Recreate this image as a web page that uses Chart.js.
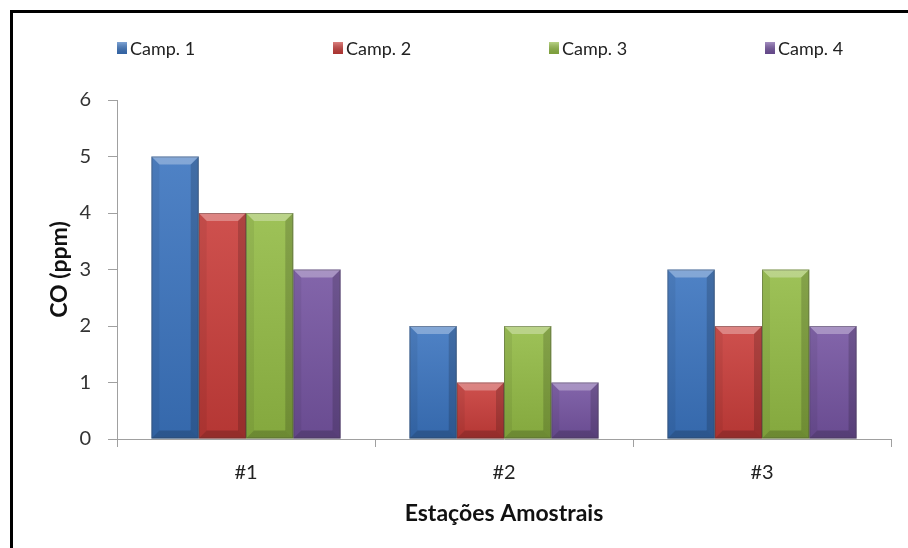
<!DOCTYPE html>
<html>
<head>
<meta charset="utf-8">
<script src="https://cdn.jsdelivr.net/npm/chart.js@4/dist/chart.umd.min.js"></script>
<style>
  html, body { margin: 0; padding: 0; background: #fff; }
  #wrap { width: 908px; height: 548px; position: relative; }
</style>
</head>
<body>
<div id="wrap"><canvas id="c" width="908" height="548"></canvas></div>
<script>
// Sampling stations and CO readings (ppm) for each campaign
const stations = ['#1', '#2', '#3'];
const camp1 = [5, 2, 3];
const camp2 = [4, 1, 2];
const camp3 = [4, 2, 3];
const camp4 = [3, 1, 2];
const seriesNames = ['Camp. 1', 'Camp. 2', 'Camp. 3', 'Camp. 4'];
const yTicks = [0, 1, 2, 3, 4, 5, 6];

const baseColors = ['#3b74bf', '#c93d3a', '#93bb45', '#7554a1'];
const FONT = 'Lato, "Open Sans", sans-serif';

// Frame lines along the top and left edges, on a white page
const framePlugin = {
  id: 'frame',
  beforeDraw(chart) {
    const ctx = chart.ctx;
    ctx.save();
    ctx.fillStyle = '#fff';
    ctx.fillRect(0, 0, chart.width, chart.height);
    ctx.fillStyle = '#000';
    ctx.fillRect(10, 10, chart.width - 10, 3);
    ctx.fillRect(10, 10, 3, chart.height - 10);
    ctx.restore();
  }
};

// Bevelled shading on top of each bar the library has drawn
const bevelPlugin = {
  id: 'bevel',
  afterDatasetsDraw(chart) {
    const ctx = chart.ctx;
    chart.data.datasets.forEach((ds, di) => {
      const meta = chart.getDatasetMeta(di);
      meta.data.forEach(bar => {
        const l = bar.x - bar.width / 2, r = bar.x + bar.width / 2;
        const t = Math.min(bar.y, bar.base), b = Math.max(bar.y, bar.base);
        const bv = Math.min(8, (b - t) / 3);
        ctx.save();
        // soft vertical shading of the face
        const g = ctx.createLinearGradient(0, t, 0, b);
        g.addColorStop(0, 'rgba(255,255,255,0.10)');
        g.addColorStop(1, 'rgba(0,0,0,0.10)');
        ctx.fillStyle = g;
        ctx.fillRect(l, t, r - l, b - t);
        const poly = (pts, fill) => {
          ctx.beginPath();
          ctx.moveTo(pts[0][0], pts[0][1]);
          for (let i = 1; i < pts.length; i++) ctx.lineTo(pts[i][0], pts[i][1]);
          ctx.closePath();
          ctx.fillStyle = fill;
          ctx.fill();
        };
        poly([[l, t], [r, t], [r - bv, t + bv], [l + bv, t + bv]], 'rgba(255,255,255,0.30)');
        poly([[l, t], [l + bv, t + bv], [l + bv, b - bv], [l, b]], 'rgba(0,0,0,0.06)');
        poly([[r, t], [r - bv, t + bv], [r - bv, b - bv], [r, b]], 'rgba(0,0,0,0.16)');
        poly([[l, b], [l + bv, b - bv], [r - bv, b - bv], [r, b]], 'rgba(0,0,0,0.18)');
        ctx.strokeStyle = 'rgba(60,60,60,0.35)';
        ctx.lineWidth = 1;
        ctx.strokeRect(l + 0.5, t + 0.5, r - l - 1, b - t - 1);
        ctx.restore();
      });
    });
  }
};

// Legend row spread across the top
const legendRowPlugin = {
  id: 'legendRow',
  afterDraw(chart, args, opts) {
    const ctx = chart.ctx;
    ctx.save();
    ctx.font = '18px ' + FONT;
    ctx.textBaseline = 'middle';
    chart.data.datasets.forEach((ds, i) => {
      const x = opts.x0 + i * opts.step;
      const y = opts.y;
      const g = ctx.createLinearGradient(0, y - 6, 0, y + 6);
      g.addColorStop(0, 'rgba(255,255,255,0.35)');
      g.addColorStop(1, 'rgba(0,0,0,0.15)');
      ctx.fillStyle = ds.backgroundColor;
      ctx.fillRect(x, y - 6, 10, 12);
      ctx.fillStyle = g;
      ctx.fillRect(x, y - 6, 10, 12);
      ctx.fillStyle = '#222';
      ctx.fillText(ds.label, x + 13, y + 1);
    });
    ctx.restore();
  }
};

const series = [camp1, camp2, camp3, camp4];

new Chart(document.getElementById('c'), {
  type: 'bar',
  data: {
    labels: stations,
    datasets: series.map((vals, i) => ({
      label: seriesNames[i],
      data: vals,
      backgroundColor: baseColors[i],
      borderWidth: 0,
      categoryPercentage: 0.733,
      barPercentage: 1.0
    }))
  },
  options: {
    responsive: false,
    animation: false,
    devicePixelRatio: 1,
    layout: { padding: { top: 100, right: 17, bottom: 0, left: 13 } },
    plugins: {
      legend: { display: false },
      tooltip: { enabled: false },
      legendRow: { x0: 117, step: 216, y: 48 }
    },
    scales: {
      x: {
        afterFit(scale) { scale.height = 109; },
        grid: {
          offset: true,
          drawOnChartArea: false,
          drawTicks: true,
          tickLength: 8,
          color: '#a0a0a0'
        },
        border: { color: '#a0a0a0', width: 1 },
        ticks: {
          color: '#222',
          font: { family: FONT, size: 20 },
          padding: 14
        },
        title: {
          display: true,
          text: 'Estações Amostrais',
          color: '#111',
          font: { family: FONT, size: 23, weight: 'bold' },
          padding: { top: 4, bottom: 21 }
        }
      },
      y: {
        min: 0,
        max: 6,
        afterFit(scale) { scale.width = 104; },
        afterBuildTicks(scale) { scale.ticks = yTicks.map(v => ({ value: v })); },
        grid: {
          drawOnChartArea: false,
          drawTicks: true,
          tickLength: 9,
          color: '#a0a0a0'
        },
        border: { color: '#a0a0a0', width: 1 },
        ticks: {
          color: '#333',
          font: { family: FONT, size: 20 },
          padding: 17
        },
        title: {
          display: true,
          text: 'CO (ppm)',
          color: '#111',
          font: { family: FONT, size: 23, weight: 'bold' },
          padding: { top: 33, bottom: 0 }
        }
      }
    }
  },
  plugins: [framePlugin, bevelPlugin, legendRowPlugin]
});
</script>
</body>
</html>
